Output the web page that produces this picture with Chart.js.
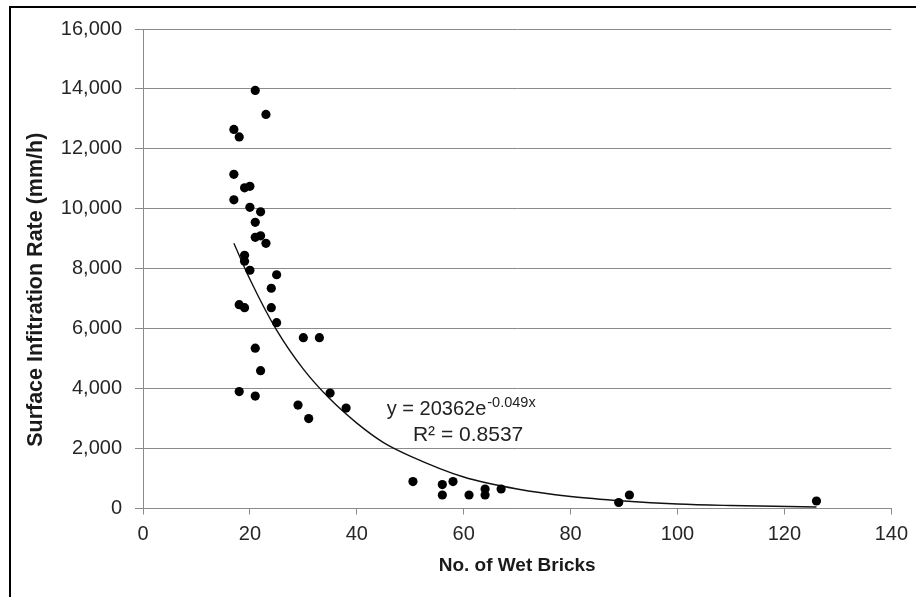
<!DOCTYPE html>
<html><head><meta charset="utf-8">
<script src="https://cdn.jsdelivr.net/npm/chart.js@4/dist/chart.umd.min.js"></script>
<style>
html,body{margin:0;padding:0;background:#fff;overflow:hidden;width:916px;height:597px}
#wrap{position:relative;width:916px;height:597px}
#frame{position:absolute;left:9px;top:6px;width:1000px;height:1000px;border-top:2px solid #000;border-left:2px solid #000;pointer-events:none}
canvas{position:absolute;left:0;top:0}
</style></head><body>
<div id="wrap"><canvas id="c" width="916" height="597"></canvas><div id="frame"></div></div>
<script>
const wetBricks = [21,23,17,18,17,19,20,17,20,22,21,21,22,23,19,19,20,25,24,18,19,24,25,21,30,33,22,18,21,35,29,38,31,50.5,56,56,58,61,64,64,67,89,91,126];
const infiltration = [13950,13150,12650,12400,11150,10700,10750,10300,10050,9900,9550,9050,9100,8850,8450,8250,7950,7800,7350,6800,6700,6700,6200,5350,5700,5700,4600,3900,3750,3850,3450,3350,3000,900,800,450,900,450,650,450,650,200,450,250];
// Exponential trendline, values
const trendX = [17,20,25,30,35,40,45,50,60,70,80,90,100,110,126];
const trendY = [8850,7650,5950,4650,3650,2850,2200,1750,1050,650,400,250,150,100,50];
// Axis ticks and texts
const xTicks = [0,20,40,60,80,100,120,140];
const yTicks = [0,2000,4000,6000,8000,10000,12000,14000,16000];
const xTitle = 'No. of Wet Bricks';
const yTitle = 'Surface Infitration Rate (mm/h)';
const eqMain = 'y = 20362e';
const eqExp = '-0.049x';
const eqR2 = 'R\u00B2 = 0.8537';

const FONT = "'Liberation Sans', Arial, sans-serif";
const GRID = '#8a8a8a';

const textPlugin = {
  id: 'texts',
  afterDatasetsDraw(chart) {
    const {ctx, chartArea, scales: {x, y}} = chart;
    ctx.save();
    ctx.fillStyle = '#222';
    ctx.textBaseline = 'alphabetic';
    ctx.textAlign = 'left';
    const x1 = x.getPixelForValue(45.6), y1 = y.getPixelForValue(3120);
    ctx.font = '20px ' + FONT;
    ctx.fillText(eqMain, x1, y1);
    const w = ctx.measureText(eqMain).width;
    ctx.font = '14.5px ' + FONT;
    ctx.fillText(eqExp, x1 + w + 1, y1 - 8);
    const x2 = x.getPixelForValue(50.5), y2 = y.getPixelForValue(2250);
    ctx.font = '21px ' + FONT;
    ctx.fillText(eqR2, x2, y2);
    ctx.restore();
    // vertical axis title
    ctx.save();
    ctx.fillStyle = '#1a1a1a';
    ctx.font = 'bold 21.5px ' + FONT;
    ctx.textAlign = 'center';
    ctx.textBaseline = 'middle';
    ctx.translate(36, (chartArea.top + chartArea.bottom) / 2 + 21);
    ctx.rotate(-Math.PI / 2);
    ctx.fillText(yTitle, 0, 0);
    ctx.restore();
  }
};

new Chart(document.getElementById('c'), {
  type: 'scatter',
  data: {
    datasets: [
      {
        label: 'trend',
        data: trendX.map((v, i) => ({x: v, y: trendY[i]})),
        showLine: true,
        borderColor: '#111',
        borderWidth: 1.4,
        pointRadius: 0,
        cubicInterpolationMode: 'monotone',
        order: 2
      },
      {
        label: 'observed',
        data: wetBricks.map((v, i) => ({x: v, y: infiltration[i]})),
        backgroundColor: '#000',
        borderColor: '#000',
        pointRadius: 4.6,
        borderWidth: 0,
        order: 1
      }
    ]
  },
  options: {
    responsive: false,
    animation: false,
    layout: {padding: {left: 0, top: 29, right: 24, bottom: 0}},
    plugins: {legend: {display: false}, tooltip: {enabled: false}},
    scales: {
      x: {
        type: 'linear', min: 0, max: 140,
        afterBuildTicks: s => { s.ticks = xTicks.map(v => ({value: v})); },
        afterFit: s => { s.height = 88.5; },
        grid: {drawOnChartArea: false, drawTicks: true, tickLength: 6, color: GRID},
        border: {display: true, color: GRID, width: 1},
        ticks: {color: '#262626', padding: 8, font: {family: FONT, size: 20}, maxRotation: 0},
        title: {display: true, text: xTitle, color: '#1a1a1a', font: {family: FONT, size: 19, weight: 'bold'}, padding: {top: 0, bottom: 20}}
      },
      y: {
        type: 'linear', min: 0, max: 16000,
        afterBuildTicks: s => { s.ticks = yTicks.map(v => ({value: v})); },
        afterFit: s => { s.width = 143; },
        grid: {drawTicks: true, tickLength: 8, color: GRID},
        border: {display: true, color: GRID, width: 1},
        ticks: {color: '#262626', padding: 13, font: {family: FONT, size: 20},
          callback: v => v.toLocaleString('en-US')},
        title: {display: false}
      }
    }
  },
  plugins: [textPlugin]
});
</script>
</body></html>
